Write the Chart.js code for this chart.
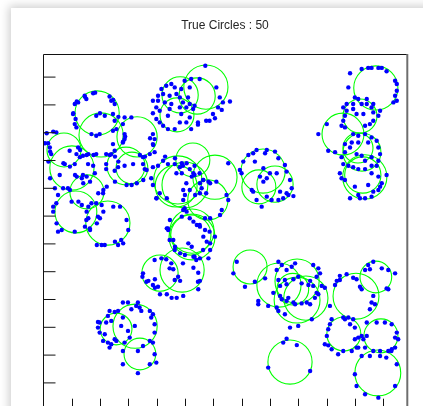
<!DOCTYPE html>
<html>
<head>
<meta charset="utf-8">
<title>True Circles</title>
<script src="https://cdn.jsdelivr.net/npm/chart.js@4.4.1/dist/chart.umd.min.js"></script>
<style>
  html, body { margin: 0; padding: 0; width: 423px; height: 406px; overflow: hidden; background: #fff; }
  #sheet { position: absolute; left: 11px; top: 8px; width: 470px; height: 470px; background: #fff;
           box-shadow: 0 0 9px 2px rgba(0, 0, 0, 0.2); }
  #wrap { position: absolute; left: 0; top: 0; width: 423px; height: 440px; }
</style>
</head>
<body>
<div id="sheet"></div>
<div id="wrap"><canvas id="c" width="423" height="440"></canvas></div>
<script>
// Axis extents (data units) and tick spacing
const X_MAX = 128.3;
const Y_MAX = 128.2;
const TICK_STEP = 10;

// Fitted circles: centre x, centre y, radius (data units)
const CIRCLE_CX = [19.0,20.4,33.1,7.3,10.1,29.2,31.3,15.4,11.5,22.8,48.3,47.2,57.4,54.3,117.4,111.8,105.8,112.5,111.1,113.5,112.8,52.8,47.5,50.0,60.6,58.1,52.5,52.5,52.1,41.2,49.0,77.6,76.1,81.8,25.7,32.4,34.1,73.0,83.2,89.6,89.6,92.7,88.1,110.4,117.4,106.1,119.2,118.1,87.1,46.9];
const CIRCLE_CY = [107.1,99.2,98.5,93.8,87.3,88.0,87.3,78.7,71.5,67.5,113.6,106.4,116.4,113.2,116.1,106.0,99.5,93.0,94.5,84.1,84.8,90.2,83.0,81.2,84.0,75.8,64.6,62.5,63.2,49.5,50.6,86.2,80.5,81.5,29.4,30.4,20.4,51.7,45.2,46.6,39.8,40.5,43.7,41.2,48.1,27.6,26.9,13.6,17.5,80.8];
const CIRCLE_R  = [7.8,7.8,7.1,6.0,7.8,6.7,5.6,6.0,7.4,7.8,6.4,6.0,7.8,6.4,7.8,6.0,7.4,6.7,5.3,7.8,6.4,6.0,8.5,8.1,7.8,7.1,7.8,8.1,7.1,6.4,7.8,7.8,6.0,6.4,5.6,7.8,5.6,6.0,7.8,7.8,8.1,7.8,5.6,8.1,5.6,6.0,6.0,8.1,7.8,7.4];

// Sample points, grouped by area of the field: [x, y]
const PTS_TOP_CENTRE = [[57.2,124.1],[52.2,119.3],[55.2,119.3],[49.9,118.7],[45.2,117.5],[43.4,116.9],[46.4,116.3],[48.7,115.7],[51.7,116.3],[61.1,116.3],[41.7,115.7],[40.5,113.3],[42.3,113.9],[44.6,113.3],[47.0,113.9],[48.2,112.7],[51.1,112.7],[38.7,111.5],[40.5,111.5],[42.9,110.9],[45.2,110.3],[49.3,110.9],[51.7,110.3],[53.4,109.7],[39.9,109.1],[41.1,107.9],[44.6,108.5],[48.2,109.1],[50.5,109.1],[52.9,108.5],[62.3,112.7],[63.4,110.9],[61.7,109.1],[59.9,106.7],[58.7,104.3],[57.5,104.3],[54.6,103.7],[51.7,105.5],[48.7,106.7],[44.0,106.1],[38.7,107.0],[39.9,104.9],[41.1,103.7],[42.3,102.5],[44.0,101.3],[46.4,101.3],[48.2,103.7],[50.5,103.7],[52.2,101.3],[54.6,102.9],[65.9,111.2],[63.0,108.2],[60.6,105.2]];

const PTS_TOP_LEFT = [[14.6,113.3],[17.6,114.2],[15.2,112.1],[23.4,113.0],[12.3,110.9],[11.1,110.3],[24.0,111.5],[25.2,110.3],[10.5,106.7],[11.4,104.9],[11.1,103.1],[11.7,101.9],[18.7,106.1],[21.7,106.1],[24.6,106.7],[25.2,104.3],[25.8,101.3],[24.6,100.7],[17.0,99.5],[18.7,98.9],[19.9,99.5],[28.7,105.5],[31.1,105.5],[28.1,103.1],[28.7,99.5],[38.7,99.5],[39.3,97.7],[38.7,95.9],[39.3,93.0],[37.6,92.3],[35.2,91.2],[28.7,97.7],[28.1,96.5],[24.6,95.9],[25.2,93.5],[24.0,92.3],[22.2,92.3],[18.7,92.3],[15.9,92.3],[14.0,91.7],[12.9,91.2],[12.3,94.7],[9.3,93.5],[11.7,92.3],[4.6,100.1],[1.7,96.2],[2.3,94.7],[2.8,92.3],[7.6,88.7],[11.1,88.7],[15.8,88.7],[17.6,88.1],[22.2,88.7],[22.2,86.9],[26.4,87.6],[25.2,86.3],[28.7,88.1],[31.7,88.7],[35.2,88.7],[35.8,86.9],[38.7,87.6],[40.5,88.1],[42.3,89.9],[44.0,88.7],[46.4,88.7],[48.2,87.6],[49.3,88.1],[51.7,86.9],[53.4,88.1],[18.3,114.4],[14.7,112.9],[11.8,111.2],[10.6,107.0],[24.7,111.8],[26.5,105.7],[20.0,107.0]];

const PTS_WEST = [[1.2,99.8],[3.5,100.4],[0.6,96.2],[2.4,93.2],[1.8,89.6],[2.4,83.6],[4.1,80.0],[3.5,73.4],[3.5,71.6],[4.7,67.4],[6.5,65.0],[7.1,89.0],[9.4,87.8],[11.8,84.2],[13.6,83.6],[11.2,84.8],[15.3,84.2],[16.5,82.4],[14.1,81.8],[9.4,79.4],[10.0,75.2],[12.4,75.2],[13.6,74.0],[15.9,73.4],[15.3,71.6],[15.9,69.2],[14.7,66.2],[16.5,65.0],[18.9,67.4],[20.0,69.2],[21.2,71.6],[20.6,74.0],[21.2,79.4],[22.4,80.6],[18.9,59.6],[20.6,59.6],[25.3,60.8],[28.2,60.2],[30.0,65.0],[29.4,68.6],[27.1,73.4],[24.7,73.4],[19.4,78.2],[13.0,93.8],[15.3,92.0],[17.7,92.0],[23.5,92.0],[25.3,91.4],[26.5,89.6],[25.3,82.4],[29.4,81.2],[31.2,81.2],[33.0,81.8],[35.3,83.0],[36.5,86.6],[35.9,91.4],[34.1,92.0],[37.7,98.0],[38.8,95.6],[28.9,98.6],[28.2,96.8],[5.8,84.8],[14.0,84.8],[18.2,85.4],[7.0,80.0],[8.7,80.0],[5.2,77.6],[4.6,74.6],[5.2,64.4],[11.1,64.4],[15.2,68.6],[17.0,74.6],[18.7,74.6],[19.3,69.8],[21.1,78.2],[16.4,65.6],[27.5,61.4],[21.7,59.6],[26.4,59.6]];

const PTS_CENTRE = [[43.0,91.4],[46.5,90.8],[48.9,89.0],[50.6,89.0],[53.0,85.4],[52.4,84.2],[55.3,81.8],[56.5,83.0],[58.3,82.4],[58.9,81.8],[65.3,89.0],[40.0,76.4],[43.6,76.4],[49.4,79.4],[50.0,77.6],[49.4,75.8],[55.3,78.2],[55.9,80.0],[53.6,77.6],[64.7,77.6],[65.3,75.8],[63.0,72.2],[62.4,70.4],[58.9,69.2],[57.1,69.2],[49.4,72.2],[50.6,71.6],[48.9,69.8],[44.7,68.6],[43.6,65.6],[44.1,65.0],[53.0,68.0],[54.2,66.8],[55.3,66.2],[57.1,65.0],[56.5,62.6],[57.7,60.8],[58.9,60.2],[60.6,62.6],[58.9,57.8],[58.3,54.8],[55.3,54.8],[53.0,55.4],[50.0,56.0],[48.3,56.6],[46.5,59.0],[45.9,61.4],[51.2,60.2],[52.4,59.0],[38.1,83.6],[38.7,81.2],[39.9,76.4],[41.1,78.2],[47.0,85.4],[50.5,81.8],[51.7,79.4],[53.4,84.8],[55.2,85.4],[56.4,83.0],[61.1,82.4],[57.5,78.2],[48.9,85.4],[49.9,72.8],[51.7,69.2],[44.0,65.6],[44.6,61.4],[46.4,57.8],[53.4,55.4],[56.4,57.8],[58.7,64.4],[55.2,66.8]];

const PTS_LOWER_CENTRE = [[39.3,54.2],[41.7,54.8],[43.4,54.5],[45.2,53.0],[35.2,49.4],[35.0,48.2],[36.4,46.4],[38.7,45.2],[40.5,44.6],[44.6,51.2],[46.4,47.0],[47.6,48.2],[49.3,53.0],[54.0,54.2],[54.6,46.4],[37.1,46.7],[39.4,44.2],[41.2,41.9],[43.6,41.9],[45.3,40.6],[47.1,40.6],[49.4,41.3],[54.7,43.7],[55.3,46.7],[54.7,49.6],[53.0,51.4],[45.9,50.9],[48.3,46.7],[39.4,47.3]];

const PTS_SOUTH_WEST = [[28.1,38.9],[29.9,38.9],[33.4,38.9],[32.8,37.7],[34.0,37.1],[34.6,35.9],[31.1,36.5],[23.4,35.9],[25.2,35.5],[26.4,35.9],[37.6,35.9],[38.7,34.7],[38.1,33.5],[39.3,31.1],[39.3,28.1],[37.6,25.1],[38.7,24.5],[22.8,34.1],[24.0,32.3],[22.2,31.7],[19.3,31.9],[19.9,31.7],[19.3,29.9],[19.9,28.1],[21.7,27.5],[21.1,25.1],[22.8,24.5],[23.4,22.7],[24.0,23.9],[25.2,25.7],[25.8,25.1],[28.1,33.5],[27.5,30.5],[29.9,28.7],[30.5,26.3],[32.3,30.5],[28.1,21.5],[28.1,16.7],[33.4,21.5],[35.2,23.3],[37.6,16.7],[39.9,17.3],[33.4,13.5],[39.3,20.3],[28.7,24.5]];

const PTS_EAST_CENTRE = [[69.4,86.6],[70.0,85.4],[70.6,89.6],[72.4,92.0],[74.1,92.6],[75.3,93.8],[78.9,93.8],[78.3,92.6],[81.8,93.2],[83.0,90.8],[85.3,88.4],[85.9,86.0],[87.1,83.0],[87.7,80.0],[86.5,77.6],[84.7,76.4],[83.0,75.8],[80.6,75.8],[78.9,77.0],[77.1,73.4],[75.3,75.8],[74.1,78.8],[73.6,79.4],[76.5,84.2],[77.7,82.4],[78.9,83.6],[80.0,85.4],[82.4,85.4],[74.7,89.6],[77.7,87.2],[83.6,78.8],[85.9,78.2],[88.3,77.2]];

const PTS_NORTH_EAST = [[112.4,122.9],[114.7,123.3],[115.9,123.3],[118.3,123.3],[119.5,123.3],[121.2,122.1],[108.3,121.4],[124.2,118.7],[124.8,117.5],[107.7,116.3],[124.8,115.1],[124.2,113.3],[124.8,111.5],[123.6,110.9],[110.0,112.7],[111.2,112.1],[114.2,112.1],[107.1,110.3],[109.4,110.3],[112.4,110.3],[114.2,110.3],[116.5,110.3],[105.9,109.1],[107.1,107.9],[109.4,108.5],[115.9,109.1],[116.5,107.3],[118.9,107.9],[118.3,106.1],[116.5,104.3],[115.3,103.1],[113.6,102.5],[113.0,106.7],[110.6,106.7],[106.5,106.1],[105.9,104.3],[105.3,102.5],[106.5,101.9],[100.1,103.1],[97.1,99.5],[100.6,93.5],[103.0,93.0],[109.4,99.5],[111.2,98.9],[113.6,99.5],[115.9,98.3],[114.7,96.5],[111.2,96.5],[108.9,96.5],[106.5,95.9],[117.7,97.1],[118.3,94.7],[118.9,92.3],[118.3,89.9],[117.7,88.1],[115.9,88.1],[113.6,86.9],[111.2,86.9],[109.4,87.6],[107.7,88.1],[105.9,88.7],[105.3,91.2],[106.5,93.0],[108.3,94.7],[110.6,92.3],[112.4,91.7],[113.6,89.9],[115.9,91.2],[104.7,85.4],[105.3,83.6],[106.5,83.0],[110.0,80.6],[111.2,77.6],[108.3,76.4],[111.8,76.4],[113.6,76.4],[115.9,77.0],[116.5,78.8],[118.3,79.4],[118.9,80.6],[119.5,81.8],[121.2,84.8],[118.3,84.2],[114.7,81.2],[115.9,85.4]];

const PTS_SOUTH_EAST = [[68.3,53.6],[67.1,49.4],[74.7,46.4],[78.3,47.6],[83.0,53.6],[84.2,52.4],[82.4,50.6],[85.9,50.6],[87.7,51.8],[88.9,53.0],[95.3,52.4],[97.1,51.2],[97.7,49.4],[96.5,48.2],[83.0,47.0],[85.3,47.0],[90.0,48.2],[91.2,45.8],[93.6,45.2],[114.7,52.4],[116.5,53.6],[119.5,51.2],[121.8,50.6],[124.2,49.4],[113.6,50.6],[111.8,44.6],[121.2,44.0],[104.7,47.0],[103.0,45.2],[71.2,44.6],[88.3,47.3],[94.2,46.7],[95.3,44.9],[96.5,42.4],[95.9,40.6],[93.0,38.9],[91.2,38.6],[88.3,38.9],[85.9,39.5],[84.2,40.1],[83.6,41.3],[81.2,42.4],[83.6,44.9],[85.9,45.5],[79.4,37.7],[82.4,37.1],[83.0,35.9],[101.2,37.7],[94.8,32.9],[87.1,29.9],[98.3,44.9],[103.6,46.7],[104.7,48.5],[107.1,49.1],[109.4,47.8],[110.6,47.3],[115.3,50.9],[116.5,41.3],[117.1,38.3],[115.3,36.5],[107.7,33.5],[109.4,32.9],[106.5,32.9],[101.2,31.1],[100.6,29.3],[100.1,26.9],[99.4,23.9],[101.8,22.1],[104.1,20.3],[105.9,21.5],[108.9,21.5],[110.6,22.7],[111.2,26.3],[112.4,26.9],[113.0,25.7],[114.2,31.7],[117.7,31.7],[120.6,31.7],[123.0,31.1],[124.8,28.1],[124.2,26.3],[124.2,22.7],[121.8,21.5],[118.9,21.5],[116.5,21.5],[112.4,19.7],[115.3,19.7],[118.9,19.7],[124.8,16.7],[85.9,25.9],[84.7,24.5],[89.5,23.6],[79.4,15.5],[94.2,14.3],[110.0,13.1],[110.6,8.9],[113.6,5.9],[118.3,4.7],[124.2,8.9],[75.9,39.5],[75.9,38.3],[85.3,34.7],[90.0,30.5],[88.9,38.3],[94.2,38.3],[97.1,41.9],[99.4,44.2],[86.5,40.6],[112.4,43.7],[115.9,38.9],[121.8,43.7],[101.8,32.9],[105.9,33.5],[108.3,31.1],[110.0,29.9],[110.0,25.7],[100.6,23.5],[111.2,22.7],[113.6,22.7],[123.0,22.1],[125.3,25.7],[114.2,26.9],[121.1,19.1],[122.9,21.5]];

const TITLE = 'True Circles : ' + CIRCLE_R.length;

const allPoints = [].concat(PTS_TOP_CENTRE, PTS_TOP_LEFT, PTS_WEST, PTS_CENTRE,
  PTS_LOWER_CENTRE, PTS_SOUTH_WEST, PTS_EAST_CENTRE, PTS_NORTH_EAST, PTS_SOUTH_EAST)
  .map(p => ({ x: p[0], y: p[1] }));

const circleData = CIRCLE_CX.map((cx, i) => ({ x: cx, y: CIRCLE_CY[i] }));

// radius in data units -> pixels, through the x scale
function radiusPx(chart, r) {
  const sx = chart.scales.x;
  return sx.getPixelForValue(r) - sx.getPixelForValue(0);
}

// axes box with inward tick marks
const TICK_LEN = 12;
const framePlugin = {
  id: 'frame',
  afterDraw(chart) {
    const { ctx, chartArea: a, scales } = chart;
    const sx = scales.x, sy = scales.y;
    ctx.save();
    const L = Math.floor(a.left) + 0.5;
    const T = Math.floor(a.top) + 0.5;
    ctx.lineWidth = 1;
    ctx.strokeStyle = '#111';
    ctx.beginPath();
    ctx.moveTo(L, a.bottom + 2);
    ctx.lineTo(L, T);
    ctx.lineTo(Math.round(a.right), T);
    ctx.stroke();
    ctx.strokeStyle = '#6e6e6e';
    ctx.lineWidth = 2;
    ctx.beginPath();
    ctx.moveTo(Math.round(a.right) + 0.3, T - 0.5);
    ctx.lineTo(Math.round(a.right) + 0.3, a.bottom + 2);
    ctx.stroke();
    ctx.strokeStyle = '#111';
    ctx.lineWidth = 1;
    ctx.beginPath();
    ctx.moveTo(L, a.bottom);
    ctx.lineTo(a.right, a.bottom);
    for (let v = TICK_STEP; v < X_MAX; v += TICK_STEP) {
      const px = Math.round(sx.getPixelForValue(v)) + 0.5;
      ctx.moveTo(px, a.bottom);
      ctx.lineTo(px, a.bottom - TICK_LEN);
    }
    for (let v = TICK_STEP; v < Y_MAX; v += TICK_STEP) {
      const py = sy.getPixelForValue(v);
      ctx.moveTo(L, py);
      ctx.lineTo(L + TICK_LEN, py);
    }
    ctx.stroke();
    ctx.restore();
  }
};

new Chart(document.getElementById('c'), {
  type: 'scatter',
  data: {
    datasets: [
      {
        label: 'points',
        data: allPoints,
        pointRadius: 2.2,
        pointBackgroundColor: 'rgb(0,0,255)',
        pointBorderWidth: 0,
        showLine: false
      },
      {
        label: 'circles',
        data: circleData,
        pointRadius: (c) => radiusPx(c.chart, CIRCLE_R[c.dataIndex]),
        pointBackgroundColor: 'rgba(0,0,0,0)',
        pointBorderColor: 'rgb(0,255,0)',
        pointBorderWidth: 1.1,
        showLine: false
      }
    ]
  },
  options: {
    responsive: false,
    animation: false,
    events: [],
    layout: { padding: { left: 43.3, right: 16.3, top: 0, bottom: 29.3 } },
    plugins: {
      legend: { display: false },
      tooltip: { enabled: false },
      title: {
        display: true,
        text: TITLE,
        color: '#262626',
        font: { family: "'Liberation Sans', Arial, sans-serif", size: 12, weight: 'normal', lineHeight: 1.2 },
        padding: { top: 18.3, bottom: 21.6 }
      }
    },
    scales: {
      x: { type: 'linear', min: 0, max: X_MAX, display: false },
      y: { type: 'linear', min: 0, max: Y_MAX, display: false }
    }
  },
  plugins: [framePlugin]
});
</script>
</body>
</html>
